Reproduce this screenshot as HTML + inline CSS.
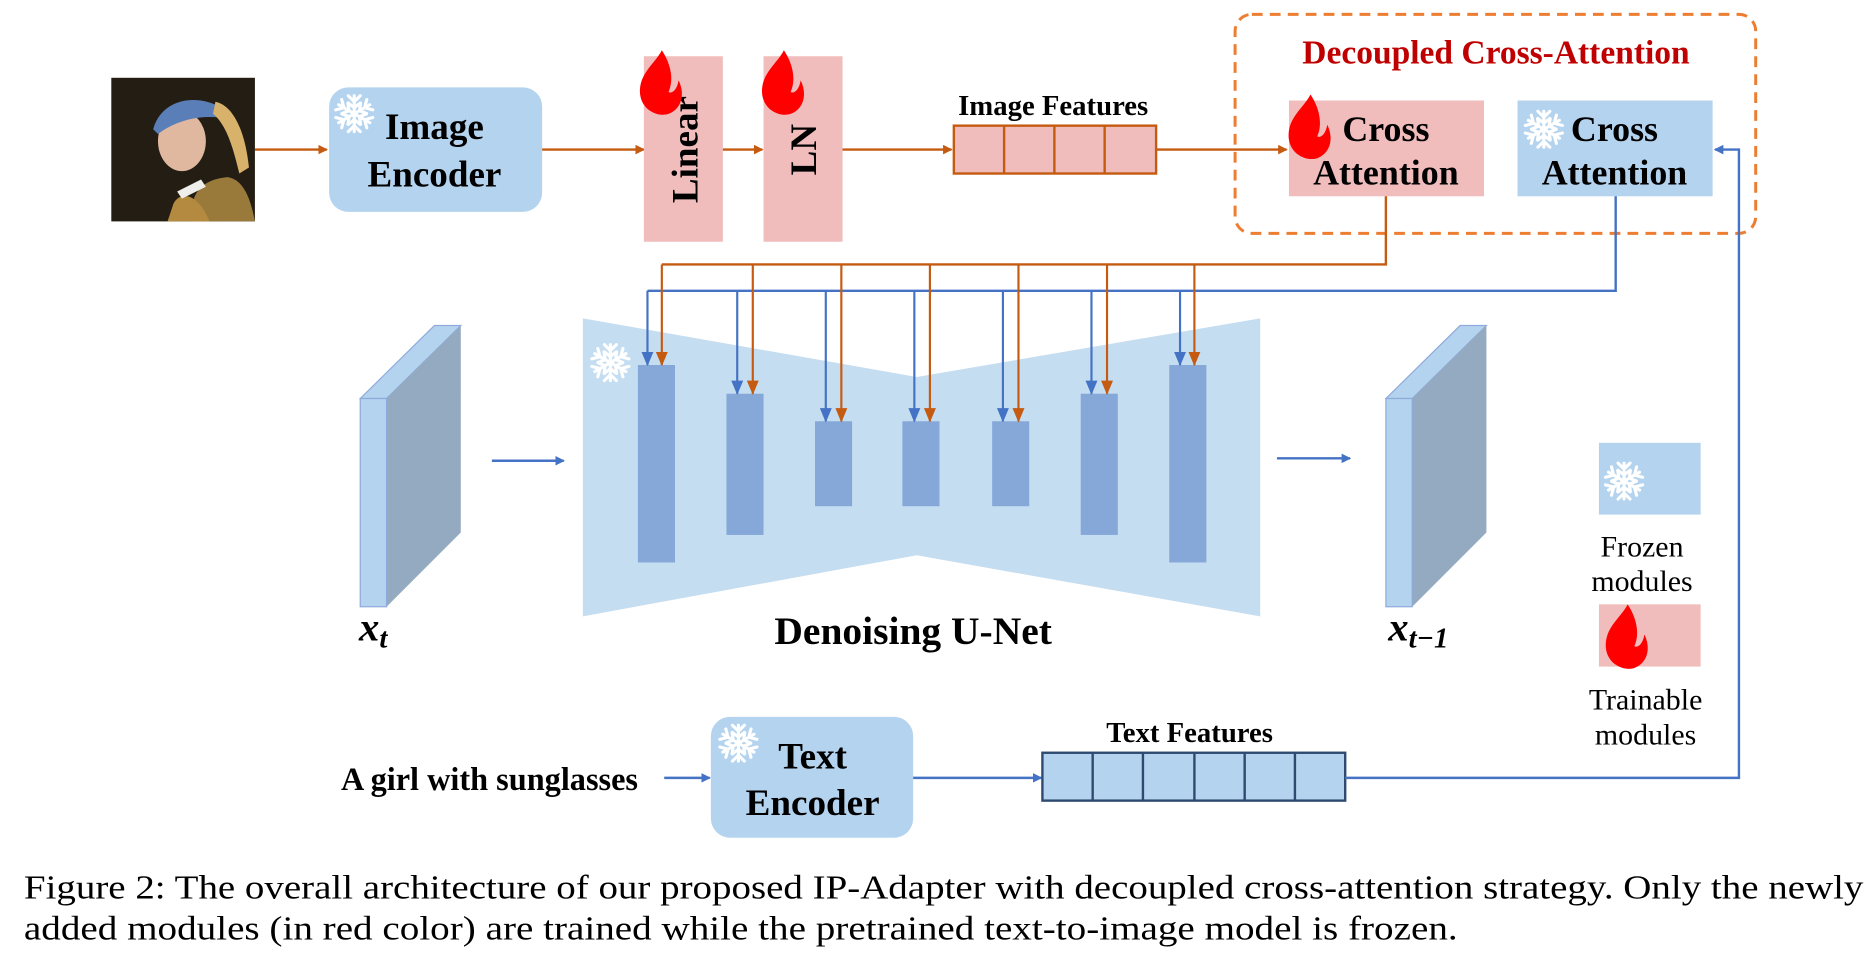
<!DOCTYPE html>
<html><head><meta charset="utf-8"><style>
html,body{margin:0;padding:0;background:#fff;}
svg{display:block;}
text{font-family:"Liberation Serif","Times New Roman",serif;}
</style></head><body>
<svg width="1867" height="955" viewBox="0 0 1560 798" preserveAspectRatio="none" xmlns="http://www.w3.org/2000/svg" font-family="Liberation Serif, serif">
<defs>
<marker id="ao" markerWidth="8" markerHeight="8" refX="7" refY="4" orient="auto" markerUnits="userSpaceOnUse"><path d="M0,0 L8,4 L0,8 z" fill="#c55a11"/></marker>
<marker id="ab" markerWidth="8" markerHeight="8" refX="7" refY="4" orient="auto" markerUnits="userSpaceOnUse"><path d="M0,0 L8,4 L0,8 z" fill="#4472c4"/></marker>
<marker id="aov" markerWidth="10" markerHeight="12" refX="5" refY="11" orient="0" markerUnits="userSpaceOnUse"><path d="M0,0 L10,0 L5,12 z" fill="#c55a11"/></marker>
<marker id="abv" markerWidth="10" markerHeight="12" refX="5" refY="11" orient="0" markerUnits="userSpaceOnUse"><path d="M0,0 L10,0 L5,12 z" fill="#4472c4"/></marker>
<g id="flame"><path transform="scale(1.4)" d="M0,-20 C-4,-12 -14,-6 -13,6 C-12,16 -2,20 4,18 C12,15 14,6 10,-2 C9,4 6,6 4,5 C8,-4 4,-14 0,-20 z" fill="#ff0000"/></g>
<g id="arm" stroke="#fff" stroke-width="2.6" stroke-linecap="round" fill="none">
<line x1="0" y1="0" x2="0" y2="-15"/><polyline points="-5,-15 0,-10 5,-15"/><polyline points="-5,-9 0,-5 5,-9"/>
</g>
<g id="snow">
<use href="#arm"/><use href="#arm" transform="rotate(60)"/><use href="#arm" transform="rotate(120)"/>
<use href="#arm" transform="rotate(180)"/><use href="#arm" transform="rotate(240)"/><use href="#arm" transform="rotate(300)"/>
<circle r="3" fill="#fff"/>
</g>
</defs>

<!-- portrait -->
<rect x="93" y="65" width="120" height="120" fill="#241d14"/>
<path d="M160,185 C158,160 170,150 190,148 C205,150 210,170 213,185 z" fill="#9a7a3a"/>
<path d="M175,185 C165,160 150,160 145,170 L140,185 z" fill="#b48a40"/>
<ellipse cx="152" cy="118" rx="20" ry="25" fill="#e0b8a0"/>
<path d="M128,108 C135,82 165,78 185,90 L192,100 C175,95 150,98 132,112 z" fill="#5a7fb8"/>
<path d="M180,85 C195,88 205,110 208,140 L200,145 C195,125 190,105 178,95 z" fill="#d8b26a"/>
<path d="M148,160 L168,150 L172,156 L152,166 z" fill="#eeeeea"/>

<line x1="213" y1="125" x2="273" y2="125" stroke="#c55a11" stroke-width="2" marker-end="url(#ao)"/>
<rect x="275" y="73" width="178" height="104" rx="16" fill="#b4d3ee"/>
<use href="#snow" x="296" y="95"/>
<text x="363" y="116" font-size="31" font-weight="bold" text-anchor="middle">Image</text>
<text x="363" y="156" font-size="31" font-weight="bold" text-anchor="middle">Encoder</text>
<line x1="453" y1="125" x2="538" y2="125" stroke="#c55a11" stroke-width="2" marker-end="url(#ao)"/>
<rect x="538" y="47" width="66" height="155" fill="#f0bcbc"/>
<text transform="translate(583,125) rotate(-90)" font-size="31" font-weight="bold" text-anchor="middle">Linear</text>
<use href="#flame" x="553" y="70"/>
<line x1="604" y1="125" x2="637" y2="125" stroke="#c55a11" stroke-width="2" marker-end="url(#ao)"/>
<rect x="638" y="47" width="66" height="155" fill="#f0bcbc"/>
<text transform="translate(682,125) rotate(-90)" font-size="31" font-weight="bold" text-anchor="middle">LN</text>
<use href="#flame" x="655" y="70"/>
<line x1="704" y1="125" x2="795" y2="125" stroke="#c55a11" stroke-width="2" marker-end="url(#ao)"/>
<text x="880" y="96" font-size="24" font-weight="bold" text-anchor="middle">Image Features</text>
<rect x="797" y="105" width="169" height="40" fill="#f0bcbc" stroke="#c55a11" stroke-width="2"/>
<line x1="839" y1="105" x2="839" y2="145" stroke="#c55a11" stroke-width="2"/>
<line x1="881" y1="105" x2="881" y2="145" stroke="#c55a11" stroke-width="2"/>
<line x1="923" y1="105" x2="923" y2="145" stroke="#c55a11" stroke-width="2"/>
<line x1="966" y1="125" x2="1075" y2="125" stroke="#c55a11" stroke-width="2" marker-end="url(#ao)"/>

<rect x="1032" y="12" width="435" height="183" rx="14" fill="none" stroke="#ed7d31" stroke-width="2.5" stroke-dasharray="9,6"/>
<text x="1250" y="53" font-size="28" font-weight="bold" fill="#c00000" text-anchor="middle">Decoupled Cross-Attention</text>
<rect x="1077" y="84" width="163" height="80" fill="#f0bcbc"/>
<use href="#flame" x="1095" y="107"/>
<text x="1158" y="118" font-size="30" font-weight="bold" text-anchor="middle">Cross</text>
<text x="1158" y="154" font-size="30" font-weight="bold" text-anchor="middle">Attention</text>
<rect x="1268" y="84" width="163" height="80" fill="#b4d3ee"/>
<use href="#snow" x="1290" y="108"/>
<text x="1349" y="118" font-size="30" font-weight="bold" text-anchor="middle">Cross</text>
<text x="1349" y="154" font-size="30" font-weight="bold" text-anchor="middle">Attention</text>

<polyline points="1158,164 1158,221 553,221" fill="none" stroke="#c55a11" stroke-width="2"/>
<polyline points="1350,164 1350,243 541,243" fill="none" stroke="#4472c4" stroke-width="2"/>

<polygon points="487,266 766,315 1053,266 1053,515 766,464 487,515" fill="#c5ddf0"/>
<use href="#snow" x="510" y="303"/>
<g fill="#85a8d8">
<rect x="533" y="305" width="31" height="165"/>
<rect x="607" y="329" width="31" height="118"/>
<rect x="681" y="352" width="31" height="71"/>
<rect x="754" y="352" width="31" height="71"/>
<rect x="829" y="352" width="31" height="71"/>
<rect x="903" y="329" width="31" height="118"/>
<rect x="977" y="305" width="31" height="165"/>
</g>
<g stroke="#4472c4" stroke-width="1.8" marker-end="url(#abv)">
<line x1="541" y1="243" x2="541" y2="305"/>
<line x1="616" y1="243" x2="616" y2="329"/>
<line x1="690" y1="243" x2="690" y2="352"/>
<line x1="764" y1="243" x2="764" y2="352"/>
<line x1="838" y1="243" x2="838" y2="352"/>
<line x1="912" y1="243" x2="912" y2="329"/>
<line x1="986" y1="243" x2="986" y2="305"/>
</g>
<g stroke="#c55a11" stroke-width="1.8" marker-end="url(#aov)">
<line x1="553" y1="221" x2="553" y2="305"/>
<line x1="629" y1="221" x2="629" y2="329"/>
<line x1="703" y1="221" x2="703" y2="352"/>
<line x1="777" y1="221" x2="777" y2="352"/>
<line x1="851" y1="221" x2="851" y2="352"/>
<line x1="925" y1="221" x2="925" y2="329"/>
<line x1="998" y1="221" x2="998" y2="305"/>
</g>
<text x="763" y="538" font-size="33" font-weight="bold" text-anchor="middle">Denoising U-Net</text>

<polygon points="301,333 363,272 385,272 323,333" fill="#b4d3ee" stroke="#8faadc" stroke-width="1"/>
<polygon points="323,333 385,272 385,445 323,507" fill="#94aac0"/>
<rect x="301" y="333" width="22" height="174" fill="#b4d3ee" stroke="#8faadc" stroke-width="1"/>
<polygon points="1158,333 1220,272 1242,272 1180,333" fill="#b4d3ee" stroke="#8faadc" stroke-width="1"/>
<polygon points="1180,333 1242,272 1242,445 1180,507" fill="#94aac0"/>
<rect x="1158" y="333" width="22" height="174" fill="#b4d3ee" stroke="#8faadc" stroke-width="1"/>
<line x1="411" y1="385" x2="471" y2="385" stroke="#4472c4" stroke-width="2" marker-end="url(#ab)"/>
<line x1="1067" y1="383" x2="1128" y2="383" stroke="#4472c4" stroke-width="2" marker-end="url(#ab)"/>
<text x="300" y="535" font-size="34" font-weight="bold" font-style="italic">x<tspan font-size="24" dy="6">t</tspan></text>
<text x="1160" y="535" font-size="34" font-weight="bold" font-style="italic">x<tspan font-size="24" dy="6">t−1</tspan></text>

<rect x="1336" y="370" width="85" height="60" fill="#b4d3ee"/>
<use href="#snow" x="1357" y="402"/>
<text x="1372" y="465" font-size="25" text-anchor="middle">Frozen</text>
<text x="1372" y="494" font-size="25" text-anchor="middle">modules</text>
<rect x="1336" y="505" width="85" height="52" fill="#f0bcbc"/>
<use href="#flame" x="1360" y="533"/>
<text x="1375" y="593" font-size="25" text-anchor="middle">Trainable</text>
<text x="1375" y="622" font-size="25" text-anchor="middle">modules</text>

<text x="409" y="660" font-size="27" font-weight="bold" text-anchor="middle">A girl with sunglasses</text>
<line x1="555" y1="650" x2="593" y2="650" stroke="#4472c4" stroke-width="2" marker-end="url(#ab)"/>
<rect x="594" y="599" width="169" height="101" rx="16" fill="#b4d3ee"/>
<use href="#snow" x="617" y="621"/>
<text x="679" y="642" font-size="31" font-weight="bold" text-anchor="middle">Text</text>
<text x="679" y="681" font-size="31" font-weight="bold" text-anchor="middle">Encoder</text>
<line x1="763" y1="650" x2="870" y2="650" stroke="#4472c4" stroke-width="2" marker-end="url(#ab)"/>
<text x="994" y="620" font-size="24" font-weight="bold" text-anchor="middle">Text Features</text>
<rect x="871" y="629" width="253" height="40" fill="#b4d3ee" stroke="#2f4a70" stroke-width="2"/>
<g stroke="#2f4a70" stroke-width="2">
<line x1="913" y1="629" x2="913" y2="669"/><line x1="955" y1="629" x2="955" y2="669"/>
<line x1="998" y1="629" x2="998" y2="669"/><line x1="1040" y1="629" x2="1040" y2="669"/>
<line x1="1082" y1="629" x2="1082" y2="669"/>
</g>
<polyline points="1124,650 1453,650 1453,125 1433,125" fill="none" stroke="#4472c4" stroke-width="2" marker-end="url(#ab)"/>

<text x="20" y="751" font-size="28" textLength="1537" lengthAdjust="spacingAndGlyphs">Figure 2: The overall architecture of our proposed IP-Adapter with decoupled cross-attention strategy. Only the newly</text>
<text x="20" y="785" font-size="28" textLength="1198" lengthAdjust="spacingAndGlyphs">added modules (in red color) are trained while the pretrained text-to-image model is frozen.</text>
</svg>
</body></html>
